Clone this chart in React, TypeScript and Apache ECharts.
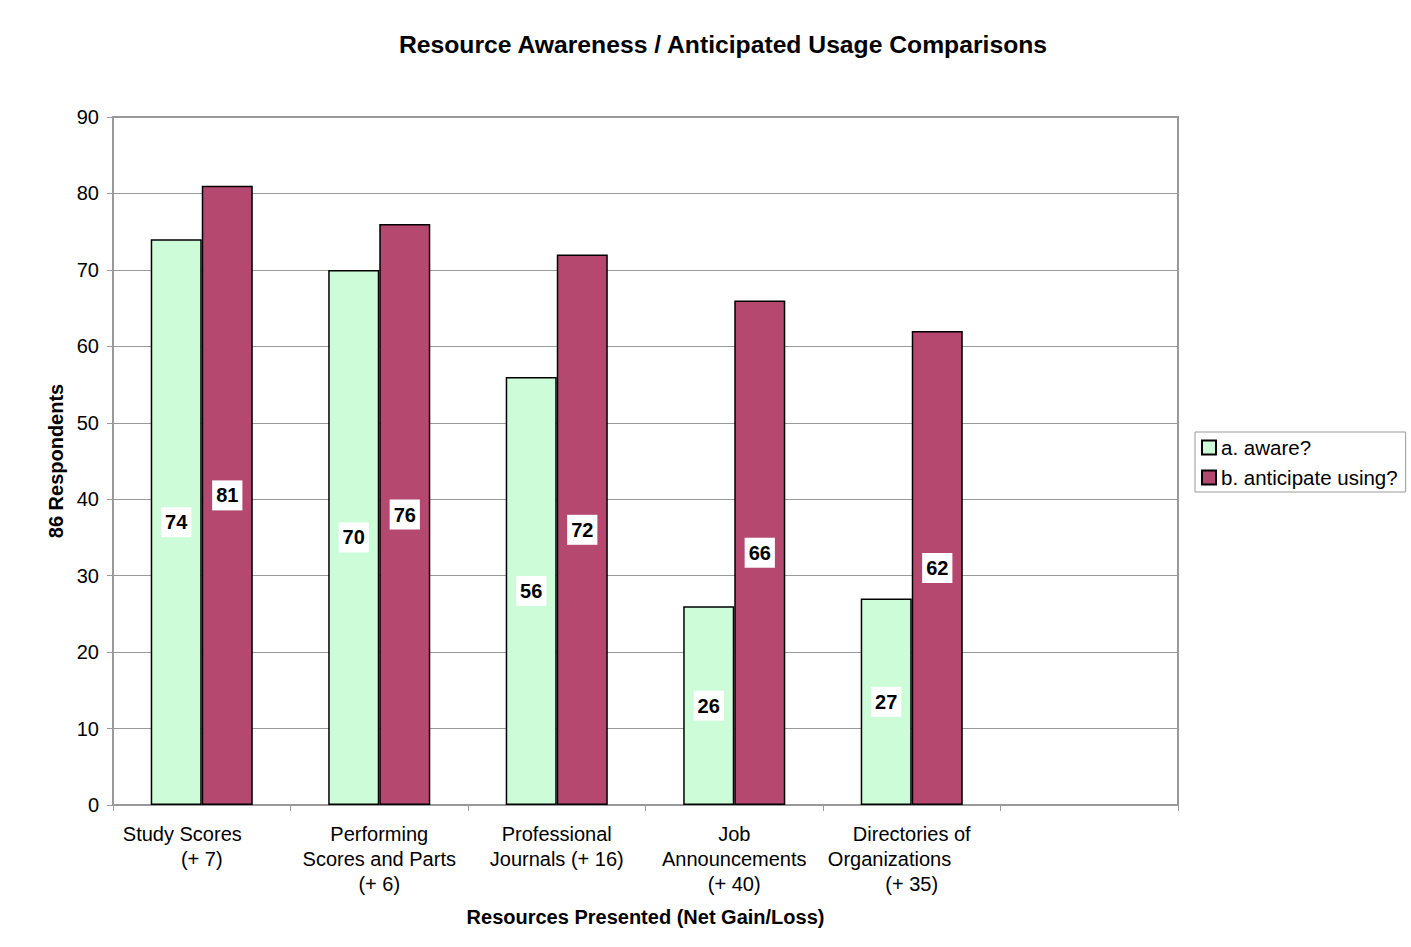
import React, { useEffect, useRef } from "react";
import * as echarts from "echarts";

const NB = "\u00a0";
const categories = [
  "Study Scores" + NB.repeat(7) + "\n(+ 7)",
  "Performing\nScores and Parts\n(+ 6)",
  "Professional\nJournals (+ 16)",
  "Job\nAnnouncements\n(+ 40)",
  "Directories of\nOrganizations" + NB.repeat(8) + "\n(+ 35)",
  "",
];
const aware = [74, 70, 56, 26, 27, null];
const anticipate = [81, 76, 72, 66, 62, null];
const seriesNames = ["a. aware?", "b. anticipate using?"];
const yTicks = { min: 0, max: 90, interval: 10 };

export default function App() {
  const ref = useRef<HTMLDivElement>(null);
  useEffect(() => {
    if (!ref.current) return;
    const chart = echarts.init(ref.current, null, { renderer: "svg" });
    const font = "Liberation Sans, Arial, sans-serif";
    const label = {
      show: true,
      position: "inside",
      color: "#000",
      fontWeight: "bold",
      fontSize: 20,
      fontFamily: font,
      backgroundColor: "#fff",
      padding: [6, 4, 4, 4],
    };
    chart.setOption({
      animation: false,
      backgroundColor: "#fff",
      textStyle: { fontFamily: font },
      title: {
        text: "Resource Awareness / Anticipated Usage Comparisons",
        left: 718,
        top: 27,
        textAlign: "center",
        textStyle: { fontSize: 24.7, fontWeight: "bold", color: "#000", fontFamily: font },
      },
      legend: {
        orient: "vertical",
        left: 1195,
        top: 432,
        icon: "rect",
        itemWidth: 14,
        itemHeight: 14,
        itemGap: 9,
        padding: [5, 8, 4, 6],
        borderColor: "#999",
        borderWidth: 1,
        backgroundColor: "#fff",
        textStyle: { fontSize: 20.5, color: "#000", fontFamily: font, padding: [0, 0, 0, 0] },
        data: seriesNames,
      },
      grid: {
        left: 113,
        top: 117,
        right: 233,
        bottom: 142,
        show: true,
        borderColor: "#999",
        borderWidth: 2,
        containLabel: false,
      },
      xAxis: {
        type: "category",
        data: categories,
        name: "Resources Presented (Net Gain/Loss)",
        nameLocation: "middle",
        nameGap: 102,
        nameTextStyle: { fontSize: 20, fontWeight: "bold", color: "#000", fontFamily: font },
        axisLine: { lineStyle: { color: "#999", width: 2 } },
        axisTick: { show: true, length: 6, lineStyle: { color: "#999", width: 1 } },
        axisLabel: {
          fontSize: 20,
          color: "#000",
          fontFamily: font,
          margin: 16,
          lineHeight: 25,
          interval: 0,
        },
      },
      yAxis: {
        type: "value",
        min: yTicks.min,
        max: yTicks.max,
        interval: yTicks.interval,
        name: "86 Respondents",
        nameLocation: "middle",
        nameGap: 46,
        nameTextStyle: { fontSize: 20, fontWeight: "bold", color: "#000", fontFamily: font },
        axisLine: { show: true, lineStyle: { color: "#999", width: 2 } },
        axisTick: { show: true, length: 6, lineStyle: { color: "#999", width: 1 } },
        axisLabel: { fontSize: 20, color: "#000", fontFamily: font, margin: 14 },
        splitLine: { show: true, lineStyle: { color: "#999", width: 1 } },
      },
      series: [
        {
          name: seriesNames[0],
          type: "bar",
          data: aware,
          barGap: "0%",
          barCategoryGap: "42.5%",
          itemStyle: { color: "#ccfdd8", borderColor: "#000", borderWidth: 1.5 },
          label,
        },
        {
          name: seriesNames[1],
          type: "bar",
          data: anticipate,
          barGap: "0%",
          barCategoryGap: "42.5%",
          itemStyle: { color: "#b5486f", borderColor: "#000", borderWidth: 1.5 },
          label,
        },
      ],
    });
    return () => chart.dispose();
  }, []);
  return (
    <div
      ref={ref}
      style={{ position: "fixed", left: 0, top: 0, width: 1411, height: 947 }}
    />
  );
}
